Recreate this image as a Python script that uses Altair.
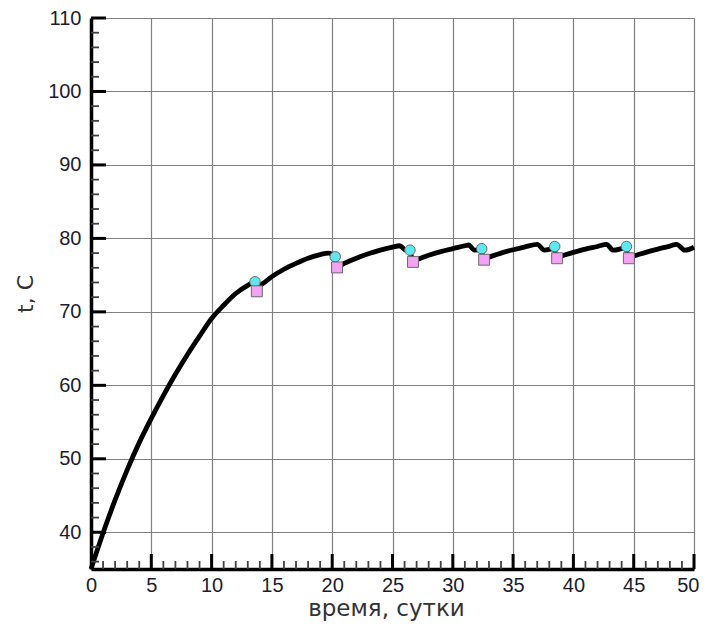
import altair as alt
import pandas as pd

# ---- data ----
curve_x = [0, 1, 2, 3, 4, 5, 6, 7, 8, 9, 10, 11, 12, 13, 13.6,
           13.8, 14.2, 15, 16, 17, 18, 19, 19.7, 20.15,
           20.4, 21, 22, 23, 24, 25, 25.6, 26.1, 26.45,
           26.65, 27, 28, 29, 30, 31, 31.3, 31.8, 32.35,
           32.55, 33, 34, 35, 36, 37, 37.6, 38.4,
           38.6, 39, 40, 41, 42, 42.75, 43.3, 44.35,
           44.55, 45, 46, 47, 48, 48.55, 49.25, 50]
curve_y = [35, 39.9, 44.4, 48.5, 52.2, 55.5, 58.6, 61.5, 64.2, 66.7, 69.1, 70.9, 72.5, 73.6, 74.1,
           73.5, 73.8, 74.8, 75.8, 76.6, 77.3, 77.8, 78.0, 77.6,
           76.1, 76.6, 77.3, 77.9, 78.4, 78.8, 79.0, 78.4, 78.4,
           76.9, 77.1, 77.7, 78.2, 78.6, 79.0, 79.1, 78.4, 78.5,
           77.2, 77.45, 78.0, 78.45, 78.85, 79.2, 78.4, 78.6,
           77.4, 77.6, 78.1, 78.55, 78.9, 79.2, 78.4, 78.7,
           77.4, 77.6, 78.1, 78.55, 78.95, 79.2, 78.4, 78.8]

circle_x = [13.6, 20.25, 26.45, 32.4, 38.45, 44.4]
circle_y = [74.1, 77.5, 78.4, 78.6, 78.9, 78.9]
square_x = [13.75, 20.4, 26.7, 32.6, 38.65, 44.6]
square_y = [72.8, 76.05, 76.8, 77.1, 77.3, 77.3]

x_labels = [0, 5, 10, 15, 20, 25, 30, 35, 40, 45, 50]
y_labels = [40, 50, 60, 70, 80, 90, 100, 110]
x_major = [5, 10, 15, 20, 25, 30, 35, 40, 45, 50]
x_minor = [v for v in range(1, 50) if v % 5 != 0]
y_major = [40, 50, 60, 70, 80, 90, 100, 110]
y_minor = [v for v in range(36, 110, 2) if v % 10 != 0]

W, H = 603, 551
LABEL_FONT = "Liberation Sans"
TITLE_FONT = "DejaVu Sans"

xs = alt.Scale(domain=[0, 50], nice=False, zero=False)
ys = alt.Scale(domain=[35, 110], nice=False, zero=False)

curve = pd.DataFrame({"x": curve_x, "y": curve_y})
circles = pd.DataFrame({"x": circle_x, "y": circle_y})
squares = pd.DataFrame({"x": square_x, "y": square_y})

x_axis = alt.Axis(values=x_labels, title="время, сутки", grid=True, gridColor="#808080",
                  gridWidth=1.2, gridOpacity=1, ticks=False, domainColor="black",
                  domainWidth=3.5, labelFont=LABEL_FONT, labelFontSize=20, labelColor="#1c1c2c",
                  labelPadding=6, labelFlush=False,
                  labelAlign=alt.ExprRef("datum.value == 50 ? 'right' : 'center'"),
                  labelOffset=alt.ExprRef("datum.value == 50 ? 5 : 0"),
                  titleFont=TITLE_FONT, titleFontSize=23, titleX=295,
                  titleFontWeight="normal", titleColor="#333333", titlePadding=2)
y_axis = alt.Axis(values=y_labels, title="t, C", grid=True, gridColor="#808080",
                  gridWidth=1.2, gridOpacity=1, ticks=False, domainColor="black",
                  domainWidth=3.5, labelFont=LABEL_FONT, labelFontSize=20, labelColor="#1c1c2c",
                  labelPadding=10, labelFlush=False, titleFont=TITLE_FONT, titleFontSize=22,
                  titleFontWeight="normal", titleColor="#333333", titlePadding=10)

X = lambda f: alt.X(f, scale=xs, axis=x_axis)
Y = lambda f: alt.Y(f, scale=ys, axis=y_axis)

line = alt.Chart(curve).mark_line(color="black", strokeWidth=4.8, strokeJoin="round",
                                  interpolate="monotone").encode(
    x=X("x:Q"), y=Y("y:Q"), order="x:Q",
)

circ = alt.Chart(circles).mark_point(shape="circle", filled=True, size=110, fill="#5fe6ee",
                                     stroke="#6a6a6a", strokeWidth=1, opacity=1).encode(
    x=X("x:Q"), y=Y("y:Q"),
)

sq = alt.Chart(squares).mark_point(shape="square", filled=True, size=120, fill="#f4a2f4",
                                   stroke="#6a6a6a", strokeWidth=1, opacity=1).encode(
    x=X("x:Q"), y=Y("y:Q"),
)

def yticks(vals, length, width, color):
    return alt.Chart(pd.DataFrame({"y": vals})).mark_rule(color=color, strokeWidth=width).encode(
        y=Y("y:Q"),
        x=alt.value(0),
        x2=alt.value(length),
    )

def xticks(vals, length, width, color):
    return alt.Chart(pd.DataFrame({"x": vals})).mark_rule(color=color, strokeWidth=width).encode(
        x=X("x:Q"),
        y=alt.value(H),
        y2=alt.value(H - length),
    )

chart = alt.layer(
    line,
    yticks(y_minor, 8, 1.8, "#404040"),
    yticks(y_major, 15, 3, "black"),
    xticks(x_minor, 8, 1.8, "#404040"),
    xticks(x_major, 15, 3, "black"),
    circ,
    sq,
).properties(
    width=W, height=H,
    autosize="none",
    padding={"left": 83, "top": 10, "right": 5, "bottom": 53},
).configure_view(stroke=None).configure(background="white")

chart.save("out.html", embed_options={"renderer": "svg", "actions": False})
